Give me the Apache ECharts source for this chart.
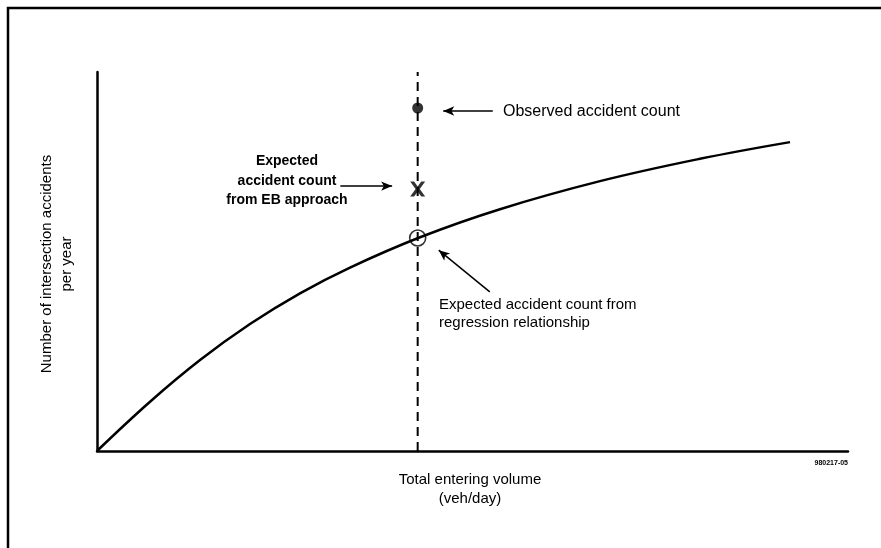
<!DOCTYPE html>
<html>
<head>
<meta charset="utf-8">
<script src="https://cdn.jsdelivr.net/npm/echarts@6/dist/echarts.min.js"></script>
<style>
html,body{margin:0;padding:0;background:#fff;}
#chart{width:881px;height:548px;}
</style>
</head>
<body>
<div id="chart"></div>
<script>
// Regression curve (total entering volume vs accidents/yr) (axis units 0-100)
const curveX = [0, 7.06, 13.72, 20.37, 27.03, 33.69, 43.02, 53.66, 66.98, 80.29, 92.28];
const curveY = [0, 13.0, 24.0, 33.5, 41.6, 48.4, 56.4, 63.8, 71.2, 77.1, 81.5];
// Site of interest
const siteX = 42.7;
const observedY = 90.5;
const ebY = 69.1;
const regressionY = 56.2;
// Annotation arrows [fromX, fromY, toX, toY]
const arrowObserved = [52.7, 89.7, 46.1, 89.7];
const arrowEB = [32.4, 69.9, 39.3, 69.9];
const arrowRegression = [52.3, 42.0, 45.5, 53.0];
// Texts
const xAxisName = "Total entering volume\n(veh/day)";
const yAxisName = "Number of intersection accidents\nper year";
const labelObserved = "Observed accident count";
const labelEB = "Expected\naccident count\nfrom EB approach";
const labelRegression = "Expected accident count from\nregression relationship";
const figureCode = "980217-05";

const FONT = '"Liberation Sans", Arial, sans-serif';
const chart = echarts.init(document.getElementById('chart'));

const curveData = curveX.map((x, i) => [x, curveY[i]]);
function arrow(a) {
  return [{coord: [a[0], a[1]], symbol: 'none'}, {coord: [a[2], a[3]], symbol: 'arrow', symbolSize: [7, 11]}];
}
function txt(x, y, text, size, weight, align, lh, extra) {
  return Object.assign({
    type: 'text', x: x, y: y,
    style: {text: text, fontFamily: FONT, fontSize: size, fontWeight: weight, fill: '#000',
            textAlign: align, textVerticalAlign: 'middle', lineHeight: lh}
  }, extra || {});
}

const option = {
  backgroundColor: '#fff',
  animation: false,
  grid: {left: 97, right: 33, top: 72, bottom: 97, containLabel: false},
  xAxis: {
    type: 'value', min: 0, max: 100,
    axisLine: {show: true, lineStyle: {color: '#000', width: 2.5}},
    axisTick: {show: false}, axisLabel: {show: false}, splitLine: {show: false}
  },
  yAxis: {
    type: 'value', min: 0, max: 100,
    axisLine: {show: true, lineStyle: {color: '#000', width: 2.5}},
    axisTick: {show: false}, axisLabel: {show: false}, splitLine: {show: false}
  },
  series: [
    {
      type: 'line', data: curveData, smooth: 0.4, showSymbol: false,
      lineStyle: {color: '#000', width: 2.5}, z: 2,
      markLine: {
        silent: true, animation: false,
        lineStyle: {color: '#000', width: 1.5, type: 'solid'},
        label: {show: false},
        data: [arrow(arrowObserved), arrow(arrowEB), arrow(arrowRegression)]
      }
    },
    {
      type: 'line', data: [[siteX, 0], [siteX, 100]], showSymbol: false,
      lineStyle: {color: '#000', width: 2, type: [9, 6]}, z: 1
    },
    {
      type: 'scatter', data: [[siteX, observedY]], symbol: 'circle', symbolSize: 11,
      itemStyle: {color: '#000'}, z: 5
    },
    {
      type: 'scatter', data: [[siteX, ebY]],
      symbol: 'path://M0,0 L2.6,0 L5,3.3 L7.4,0 L10,0 L6.4,5 L10,10 L7.4,10 L5,6.7 L2.6,10 L0,10 L3.6,5 Z',
      symbolSize: 15, itemStyle: {color: '#000'}, z: 5
    },
    {
      type: 'scatter', data: [[siteX, regressionY]], symbol: 'circle', symbolSize: 16,
      itemStyle: {color: 'rgba(0,0,0,0)', borderColor: '#000', borderWidth: 1.6}, z: 5
    }
  ],
  graphic: [
    {type: 'rect', shape: {x: 8, y: 8, width: 890, height: 560}, style: {fill: null, stroke: '#000', lineWidth: 2.5}, silent: true},
    txt(503, 112, labelObserved, 16, 'normal', 'left', 18),
    txt(287, 181, labelEB, 14, 'bold', 'center', 19.5),
    txt(439, 314, labelRegression, 15, 'normal', 'left', 18),
    txt(470, 489, xAxisName, 15, 'normal', 'center', 19),
    txt(57, 264, yAxisName, 15, 'normal', 'center', 20, {rotation: Math.PI / 2}),
    txt(848, 463, figureCode, 7, 'bold', 'right', 8)
  ]
};
chart.setOption(option);
</script>
</body>
</html>
